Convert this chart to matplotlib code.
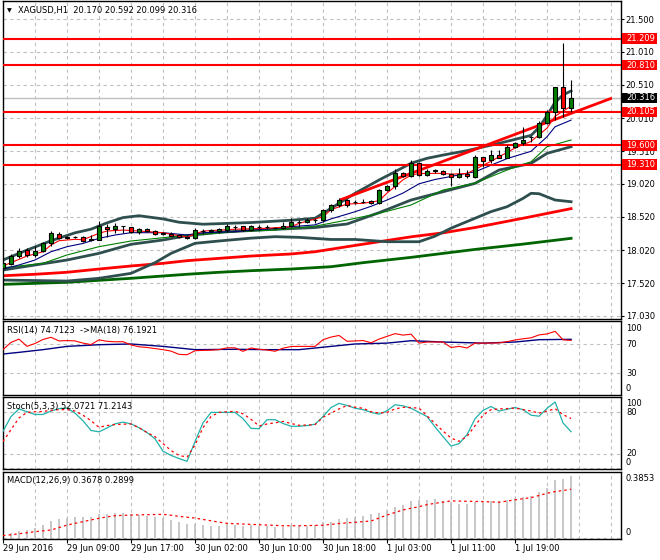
import numpy as np
import matplotlib.pyplot as plt
import matplotlib.transforms as mtransforms
from matplotlib.patches import Rectangle

plt.rcParams['font.family'] = 'DejaVu Sans'
plt.rcParams['font.size'] = 6

W, H = 660, 560
LEFT, RIGHT = 2.5, 620.7

# ---------------- price data (H1 candles) ----------------
opens = [17.754, 17.815, 17.930, 18.016, 17.941, 18.010, 18.120, 18.258, 18.206, 18.210,
         18.212, 18.185, 18.175, 18.368, 18.334, 18.380, 18.370, 18.292, 18.337, 18.307,
         18.270, 18.260, 18.240, 18.212, 18.200, 18.310, 18.307, 18.312, 18.330, 18.370,
         18.378, 18.317, 18.370, 18.365, 18.360, 18.357, 18.387, 18.439, 18.449, 18.473,
         18.470, 18.624, 18.699, 18.775, 18.745, 18.749, 18.760, 18.725, 18.926, 18.980,
         19.187, 19.141, 19.328, 19.152, 19.217, 19.217, 19.162, 19.126, 19.162, 19.126,
         19.418, 19.380, 19.453, 19.413, 19.579, 19.630, 19.725, 19.729, 19.931, 20.100,
         20.474, 20.170]
highs = [17.840, 17.956, 18.056, 18.046, 18.081, 18.146, 18.312, 18.292, 18.237, 18.232,
         18.232, 18.247, 18.458, 18.409, 18.423, 18.385, 18.375, 18.357, 18.352, 18.327,
         18.297, 18.288, 18.267, 18.227, 18.348, 18.342, 18.342, 18.357, 18.409, 18.398,
         18.388, 18.398, 18.398, 18.398, 18.372, 18.439, 18.499, 18.474, 18.508, 18.508,
         18.639, 18.714, 18.800, 18.790, 18.775, 18.786, 18.775, 18.941, 19.001, 19.238,
         19.202, 19.378, 19.353, 19.238, 19.242, 19.227, 19.177, 19.253, 19.227, 19.453,
         19.423, 19.529, 19.529, 19.604, 19.654, 19.880, 19.739, 19.971, 20.132, 20.484,
         21.138, 20.592]
lows = [17.734, 17.795, 17.905, 17.911, 17.920, 17.995, 18.086, 18.182, 18.182, 18.197,
        18.146, 18.157, 18.170, 18.212, 18.282, 18.273, 18.277, 18.267, 18.287, 18.242,
        18.247, 18.228, 18.202, 18.182, 18.182, 18.262, 18.277, 18.282, 18.297, 18.327,
        18.307, 18.307, 18.327, 18.333, 18.337, 18.337, 18.372, 18.372, 18.423, 18.430,
        18.439, 18.598, 18.674, 18.674, 18.714, 18.726, 18.714, 18.714, 18.911, 18.941,
        19.126, 19.117, 19.137, 19.137, 19.177, 19.152, 18.986, 19.102, 19.102, 19.111,
        19.277, 19.328, 19.403, 19.403, 19.554, 19.604, 19.654, 19.705, 19.921, 19.981,
        20.031, 20.099]
closes = [17.820, 17.930, 18.006, 17.946, 18.006, 18.122, 18.273, 18.206, 18.212, 18.214,
          18.157, 18.170, 18.383, 18.334, 18.383, 18.378, 18.292, 18.337, 18.307, 18.262,
          18.255, 18.237, 18.212, 18.205, 18.322, 18.307, 18.317, 18.337, 18.383, 18.363,
          18.317, 18.378, 18.365, 18.368, 18.357, 18.387, 18.439, 18.449, 18.473, 18.480,
          18.624, 18.699, 18.775, 18.699, 18.749, 18.745, 18.730, 18.926, 18.986, 19.187,
          19.141, 19.328, 19.152, 19.217, 19.222, 19.162, 19.126, 19.162, 19.141, 19.428,
          19.367, 19.453, 19.413, 19.579, 19.630, 19.680, 19.729, 19.931, 20.106, 20.474,
          20.170, 20.316]

# moving averages / bands on the price chart (bar index, price)
fast_ma_x = [0, 1, 3, 5, 6, 7, 9, 10, 12, 13, 15, 17, 20, 21, 23, 25, 29, 33, 36, 37, 39, 40, 41,
             43, 45, 47, 48, 50, 51, 52, 55, 56, 58, 61, 64, 66, 68, 69, 71]
fast_ma_y = [17.780, 17.830, 17.930, 17.995, 18.096, 18.161, 18.182, 18.176, 18.273, 18.307,
             18.322, 18.307, 18.282, 18.258, 18.217, 18.307, 18.334, 18.349, 18.372, 18.423,
             18.488, 18.523, 18.630, 18.714, 18.725, 18.764, 18.880, 19.080, 19.150, 19.175,
             19.177, 19.165, 19.175, 19.360, 19.560, 19.660, 19.860, 20.040, 20.190]
mid_ma_x = [0, 2, 4, 6, 8, 10, 12, 14, 16, 20, 23, 25, 29, 34, 36, 39, 41, 44, 46, 48, 50, 52,
            54, 56, 58, 59, 61, 63, 66, 68, 69, 71]
mid_ma_y = [17.734, 17.795, 17.870, 17.995, 18.071, 18.120, 18.197, 18.247, 18.282, 18.282,
            18.247, 18.282, 18.297, 18.349, 18.372, 18.400, 18.490, 18.598, 18.680, 18.775,
            18.880, 19.020, 19.085, 19.130, 19.180, 19.200, 19.300, 19.400, 19.510, 19.730,
            19.880, 19.980]
slow_ma_x = [0, 2, 5, 8, 12, 16, 20, 23, 25, 29, 34, 39, 43, 47, 51, 55, 59, 63, 66, 68, 71]
slow_ma_y = [17.754, 17.780, 17.820, 17.946, 18.071, 18.157, 18.206, 18.247, 18.258, 18.297,
             18.322, 18.380, 18.473, 18.574, 18.700, 18.926, 19.030, 19.227, 19.352, 19.579,
             19.680]
band_up_x = [0, 3, 6, 9, 11, 13, 15, 17, 20, 22, 25, 31, 36, 39, 41, 44, 47, 49, 51, 53, 55,
             58, 62, 66, 67, 68, 69, 70, 71]
band_up_y = [17.870, 18.020, 18.160, 18.280, 18.335, 18.430, 18.510, 18.538, 18.490, 18.440,
             18.410, 18.435, 18.470, 18.500, 18.650, 18.876, 19.077, 19.202, 19.330, 19.404,
             19.453, 19.520, 19.630, 19.750, 19.870, 20.050, 20.250, 20.360, 20.420]
band_low_x = [0, 4, 8, 12, 16, 20, 23, 27, 32, 39, 43, 47, 51, 55, 59, 62, 66, 68, 71]
band_low_y = [17.719, 17.795, 17.870, 17.971, 18.107, 18.172, 18.237, 18.288, 18.322, 18.360,
              18.413, 18.584, 18.775, 18.900, 19.026, 19.227, 19.328, 19.479, 19.579]
band_slow_x = [0, 8, 12, 16, 19, 21, 24, 27, 31, 34, 37, 41, 44, 48, 52, 54, 56, 58, 61, 63,
               65, 66, 67, 69, 71]
band_slow_y = [17.568, 17.553, 17.594, 17.669, 17.830, 17.970, 18.122, 18.157, 18.200, 18.222,
               18.212, 18.180, 18.180, 18.146, 18.146, 18.230, 18.350, 18.450, 18.600, 18.674,
               18.800, 18.876, 18.870, 18.775, 18.749]
ma100_x = [0, 4, 8, 12, 16, 20, 23, 27, 31, 36, 39, 43, 47, 51, 55, 59, 65, 71]
ma100_y = [17.633, 17.655, 17.685, 17.734, 17.780, 17.820, 17.860, 17.895, 17.930, 17.961,
           17.995, 18.071, 18.146, 18.220, 18.280, 18.360, 18.500, 18.645]
ma200_x = [0, 8, 12, 16, 20, 23, 27, 31, 36, 41, 45, 51, 59, 65, 71]
ma200_y = [17.503, 17.534, 17.564, 17.594, 17.629, 17.655, 17.685, 17.709, 17.734, 17.769,
           17.830, 17.910, 18.030, 18.110, 18.197]

trend_x = [42.1, 76.1]
trend_y = [18.775, 20.312]
levels = [21.209, 20.810, 20.105, 19.600, 19.310]
bid = 20.316
price_ticks = ['21.500', '21.010', '20.510', '20.010', '19.510', '19.020',
               '18.520', '18.020', '17.520', '17.030']

# ---------------- indicators ----------------
rsi = [62, 72, 76.5, 66.5, 70.5, 76, 79, 74, 74.5, 74,
       71, 69, 75.5, 73.5, 72.8, 73, 68.5, 66, 65, 63.5,
       62, 60, 55.5, 55, 60.5, 61, 61.3, 62, 64.5, 64.5,
       59.7, 64.3, 62.5, 61.5, 59.8, 64, 66.3, 66.5, 66.5, 66.5,
       75.7, 79.3, 81.5, 73.5, 74, 74.5, 71.5, 76.5, 80.3, 84,
       82, 83.3, 71, 72.5, 72.5, 72.5, 65, 66.5, 64.3, 71,
       71, 71, 71.3, 73, 75.3, 77, 78.3, 82.3, 83.6, 87.2,
       75.5, 74.7]
rsi_ma_x = [0, 2, 5, 8, 12, 16, 20, 24, 29, 33, 37, 41, 44, 48, 51, 55, 60, 64, 67, 71]
rsi_ma_y = [56, 58.3, 62, 66.5, 68.8, 69.8, 66.5, 62, 62.5, 62, 62, 66.5, 69.8, 71, 74.3,
            72.5, 71, 72.5, 75.7, 76.2]

stoch_k = [52.7, 74, 85, 81, 77, 77, 82, 85.5, 86.3, 79,
           68, 54, 52, 57.5, 63.5, 66, 63.5, 58, 51, 42,
           24, 18, 13.5, 9.5, 38, 65, 80, 80, 80, 80,
           71, 57, 56.5, 69.5, 69.5, 64, 60, 60, 61, 63,
           74, 87, 93, 90, 86, 84, 80, 77.5, 82.4, 91,
           89.5, 86, 80, 74, 59, 45, 31.5, 35, 48, 71,
           83, 88.5, 82, 84.5, 87, 84, 76, 74.5, 86, 95,
           64.7, 52.1]
stoch_d = [38, 55, 72, 80, 81, 81.3, 83, 84, 84, 82,
           76, 68, 58.5, 61, 62.5, 63, 63.3, 58, 51, 45,
           35, 25, 18, 15.5, 33, 58, 74, 80, 81, 81.5,
           78, 70, 60.5, 63.3, 65, 67, 64, 61.4, 61.8, 62.3,
           73, 79, 85, 90, 87.5, 86, 81, 79, 80, 85,
           87.3, 87, 86, 75, 64, 53, 43, 38.3, 45.5, 61,
           76, 84, 85, 85.5, 86.3, 84, 82, 79, 82, 85.3,
           76.7, 71.2]

macd_hist = [0.021, 0.031, 0.044, 0.050, 0.060, 0.079, 0.103, 0.115, 0.123, 0.125,
             0.125, 0.125, 0.142, 0.144, 0.148, 0.148, 0.142, 0.138, 0.134, 0.128,
             0.119, 0.109, 0.095, 0.083, 0.083, 0.079, 0.075, 0.074, 0.083, 0.079,
             0.075, 0.079, 0.075, 0.074, 0.069, 0.069, 0.079, 0.074, 0.075, 0.079,
             0.095, 0.099, 0.115, 0.119, 0.128, 0.132, 0.142, 0.148, 0.168, 0.187,
             0.197, 0.222, 0.227, 0.227, 0.231, 0.221, 0.217, 0.203, 0.201, 0.217,
             0.217, 0.222, 0.221, 0.227, 0.237, 0.246, 0.250, 0.275, 0.299, 0.344,
             0.350, 0.368]
macd_signal = [0.017, 0.022, 0.028, 0.034, 0.040, 0.045, 0.050, 0.064, 0.079, 0.089,
               0.099, 0.109, 0.119, 0.127, 0.134, 0.136, 0.138, 0.139, 0.140, 0.141,
               0.142, 0.137, 0.130, 0.125, 0.120, 0.112, 0.104, 0.096, 0.089, 0.087,
               0.085, 0.083, 0.081, 0.079, 0.077, 0.075, 0.075, 0.075, 0.076, 0.077,
               0.078, 0.083, 0.088, 0.092, 0.095, 0.099, 0.103, 0.120, 0.138, 0.153,
               0.168, 0.178, 0.187, 0.199, 0.207, 0.214, 0.221, 0.220, 0.219, 0.218,
               0.217, 0.215, 0.213, 0.220, 0.227, 0.234, 0.240, 0.253, 0.266, 0.276,
               0.282, 0.290]

time_ticks = [0, 8, 16, 24, 32, 40, 48, 56, 64]
time_labels = ['29 Jun 2016', '29 Jun 09:00', '29 Jun 17:00', '30 Jun 02:00', '30 Jun 10:00',
               '30 Jun 18:00', '1 Jul 03:00', '1 Jul 11:00', '1 Jul 19:00']

GRID = '#c0c0c0'
DASH = (0, (3, 3))

fig = plt.figure(figsize=(W / 100, H / 100), dpi=100)
fig.patch.set_facecolor('white')


def fig_text(px, py, s, **kw):
    fig.text(px / W, 1 - py / H, s, va='center', ha='left', **kw)


def panel(top, bottom):
    ax = fig.add_axes([LEFT / W, 1 - bottom / H, (RIGHT - LEFT) / W, (bottom - top) / H])
    ax.set_xlim(-0.06, 77.2)
    for s in ax.spines.values():
        s.set_color('black')
        s.set_linewidth(1)
    ax.set_xticks([])
    ax.set_yticks([])
    for k in range(4, 77, 4):
        ax.axvline(k, color=GRID, lw=0.8, ls=DASH, zorder=0)
    return ax


# ---------------- main price panel ----------------
ax = panel(0.5, 318.5)
ax.set_ylim(16.988, 21.784)
pp = (21.784 - 16.988) / 318.0

for t in price_ticks:
    ax.axhline(float(t), color=GRID, lw=0.8, ls=DASH, zorder=0)
ax.yaxis.tick_right()
ax.set_yticks([float(t) for t in price_ticks], labels=price_ticks)
ax.tick_params(axis='y', length=2, pad=1.7, labelsize=6, width=0.8)

ax.axhline(bid, color='#c0c0c0', lw=1, zorder=1)

ax.plot(ma200_x, ma200_y, color='#006400', lw=2.0, zorder=2)
ax.plot(ma100_x, ma100_y, color='#ff0000', lw=2.0, zorder=2)
ax.plot(band_slow_x, band_slow_y, color='#2f4f4f', lw=2.0, zorder=2)
ax.plot(band_low_x, band_low_y, color='#2f4f4f', lw=2.0, zorder=2)
ax.plot(band_up_x, band_up_y, color='#2f4f4f', lw=2.0, zorder=2)
ax.plot(slow_ma_x, slow_ma_y, color='#008000', lw=0.8, zorder=3)
ax.plot(mid_ma_x, mid_ma_y, color='#000080', lw=0.8, zorder=3)
ax.plot(fast_ma_x, fast_ma_y, color='#ff0000', lw=0.8, zorder=3)

for lv in levels:
    ax.axhline(lv, color='#ff0000', lw=1.5, zorder=3)
ax.plot(trend_x, trend_y, color='#ff0000', lw=2, zorder=3, solid_capstyle='butt')

idx = np.arange(len(opens))
o = np.array(opens)
c = np.array(closes)
body_col = np.where(c > o, '#008000', '#ff0000')
ax.vlines(idx, lows, highs, color='black', lw=0.8, zorder=4)
ax.bar(idx, np.abs(c - o), bottom=np.minimum(o, c), width=0.6, color=body_col,
       edgecolor='black', linewidth=0.8, zorder=5)

# price boxes on the right scale
trans = mtransforms.blended_transform_factory(ax.transAxes, ax.transData)
bx0 = (621.7 - LEFT) / (RIGHT - LEFT)
bw = 35.5 / (RIGHT - LEFT)
tx = (626.0 - LEFT) / (RIGHT - LEFT)
for lv, fc in [(l, '#ff0000') for l in levels] + [(bid, 'black')]:
    ax.add_patch(Rectangle((bx0, lv - 5.2 * pp), bw, 10.4 * pp, transform=trans,
                           facecolor=fc, edgecolor='none', clip_on=False, zorder=10))
    ax.text(tx, lv, f'{lv:.3f}', transform=trans, color='white', ha='left', va='center',
            fontsize=6, zorder=11, clip_on=False)

fig_text(6.5, 10.5, '\u25bc', fontsize=4.5)
fig_text(18, 11, 'XAGUSD,H1  20.170 20.592 20.099 20.316')

# ---------------- RSI ----------------
ax_rsi = panel(321, 394.75)
ax_rsi.set_ylim(0, 101.4)
for lv in [70, 30]:
    ax_rsi.axhline(lv, color=GRID, lw=0.8, ls=DASH, zorder=0)
ax_rsi.plot(idx, rsi, color='#ff0000', lw=0.8, zorder=3)
ax_rsi.plot(rsi_ma_x, rsi_ma_y, color='#000080', lw=1.0, zorder=2)
fig_text(7, 330.7, 'RSI(14) 74.7123  ->MA(18) 76.1921')
for s, py in [('100', 328.7), ('70', 344.7), ('30', 373.7), ('0', 388.7)]:
    fig_text(626, py, s)

# ---------------- Stochastic ----------------
ax_st = panel(397, 469)
ax_st.set_ylim(-1.6, 102.2)
for lv in [80, 20, 0]:
    ax_st.axhline(lv, color=GRID, lw=0.8, ls=DASH, zorder=0)
ax_st.plot(idx, stoch_k, color='#20b2aa', lw=0.9, zorder=3)
ax_st.plot(idx, stoch_d, color='#ff0000', lw=0.9, ls=(0, (2, 2.5)), zorder=3)
fig_text(7, 406.3, 'Stoch(5,3,3) 52.0721 71.2143')
for s, py in [('100', 404), ('80', 412.3), ('20', 454), ('0', 462.3)]:
    fig_text(626, py, s)

# ---------------- MACD ----------------
ax_m = panel(472, 539)
ax_m.set_ylim(-0.003, 0.391)
ax_m.axhline(0, color=GRID, lw=0.8, ls=DASH, zorder=0)
ax_m.vlines(idx, 0, macd_hist, color='#bebebe', lw=1.2, zorder=2)
ax_m.plot(idx, macd_signal, color='#ff0000', lw=0.9, ls=(0, (2, 2.5)), zorder=3)
fig_text(7, 480.7, 'MACD(12,26,9) 0.3678 0.2899')
fig_text(626, 478.3, '0.3853')
fig_text(626, 532.7, '0')

ax_m.set_xticks(time_ticks, labels=time_labels)
ax_m.tick_params(axis='x', length=3, pad=0.5, labelsize=6, width=0.8)
for lab in ax_m.get_xticklabels():
    lab.set_horizontalalignment('left')

fig.savefig('out.png', dpi=100, facecolor='white')
